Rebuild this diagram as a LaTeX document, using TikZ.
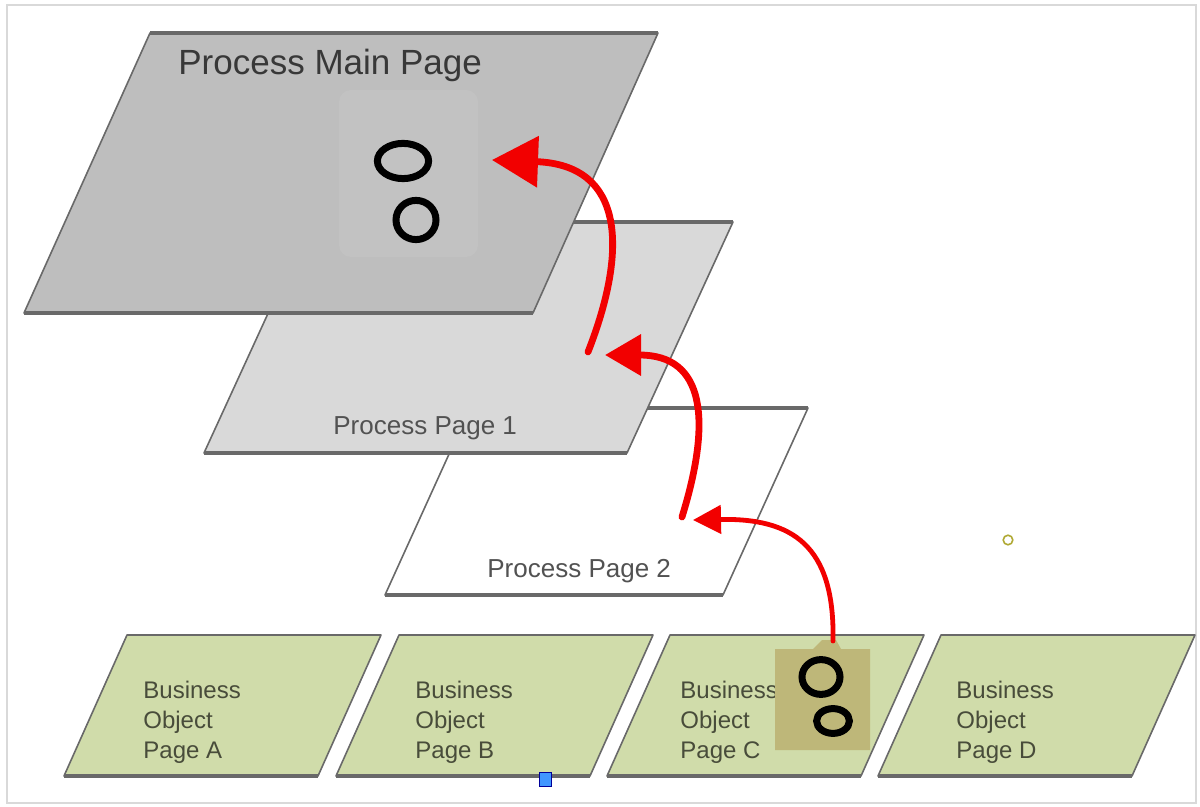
\documentclass[tikz,border=0pt]{standalone}
\usepackage{fontspec}
\setmainfont{Liberation Sans}
\usepackage{xcolor}
\usetikzlibrary{arrows.meta}
\definecolor{maingray}{RGB}{190,190,190}
\definecolor{mainspot}{RGB}{194,194,194}
\definecolor{subgray}{RGB}{217,217,217}
\definecolor{bizgreen}{RGB}{208,220,170}
\definecolor{bizpatch}{RGB}{190,183,121}
\definecolor{edgegray}{RGB}{105,105,105}
\definecolor{flowred}{RGB}{242,0,0}
\definecolor{bizink}{RGB}{72,76,58}

\begin{document}
\begin{tikzpicture}[x=0.5pt, y=-0.5pt,
    page/.style={draw=edgegray, line width=0.8pt, line join=round},
    pageedge/.style={draw=edgegray, line width=1.6pt},
    ring/.style={draw=black, line width=3.5pt},
    flow/.style={draw=flowred, line cap=round},
    pagelabel/.style={font=\fontsize{13}{15}\selectfont, text=black!68, inner sep=0pt},
    bizlabel/.style={font=\fontsize{12}{15}\selectfont, text=bizink, align=left, inner sep=0pt, anchor=north west}]

    \useasboundingbox (0,0) rectangle (1200,807);
    \draw[black!15, line width=0.6pt] (7,5) rectangle (1196,803);

    % Process Page 2
    \draw[page, fill=white] (470,408) -- (808,408) -- (723,595) -- (385,595) -- cycle;
    \draw[pageedge] (470,408) -- (808,408) (385,595) -- (723,595);
    \node[pagelabel, anchor=base west] (p2label) at (487,577) {Process Page 2};

    % Process Page 1
    \draw[page, fill=subgray] (310,222) -- (733,222) -- (627,453) -- (204,453) -- cycle;
    \draw[pageedge] (310,222) -- (733,222) (204,453) -- (627,453);
    \node[pagelabel, anchor=base west] (p1label) at (333,435) {Process Page 1};

    % Process main page
    \draw[page, fill=maingray] (150,33) -- (658,33) -- (533,313) -- (24,313) -- cycle;
    \draw[pageedge] (150,33) -- (658,33) (24,313) -- (533,313);
    \fill[mainspot, rounded corners=6] (339,90) rectangle (478,257);
    \node[font=\fontsize{17.5}{20}\selectfont, text=black!78, anchor=base west, inner sep=0pt] (mainlabel) at (178,75) {Process Main Page};
    \draw[ring] (403,161) ellipse [x radius=12.8pt, y radius=8.8pt];
    \draw[ring] (416,220) ellipse [x radius=10pt, y radius=9.8pt];

    % Business object pages
    \draw[page, fill=bizgreen] (127,635) -- (381,635) -- (318,776) -- (64,776) -- cycle;
    \draw[pageedge] (64,776) -- (318,776);
    \node[bizlabel] (bizA) at (143,681) {Business\\Object\\Page A};

    \draw[page, fill=bizgreen] (399,635) -- (653,635) -- (590,776) -- (336,776) -- cycle;
    \draw[pageedge] (336,776) -- (590,776);
    \node[bizlabel] (bizB) at (415,681) {Business\\Object\\Page B};

    \draw[page, fill=bizgreen] (670,635) -- (924,635) -- (861,776) -- (607,776) -- cycle;
    \draw[pageedge] (607,776) -- (861,776);
    \node[bizlabel] (bizC) at (680,681) {Business\\Object\\Page C};

    \draw[page, fill=bizgreen] (941,635) -- (1195,635) -- (1132,776) -- (878,776) -- cycle;
    \draw[pageedge] (878,776) -- (1132,776);
    \node[bizlabel] (bizD) at (956,681) {Business\\Object\\Page D};

    % marked spot on page C
    \fill[bizpatch] (775,649) -- (813,649) -- (822,640) -- (836,640) -- (841,649) -- (870,649) -- (870,750) -- (775,750) -- cycle;
    \draw[ring] (821,677) ellipse [x radius=9.5pt, y radius=8.7pt];
    \draw[ring] (833,721) ellipse [x radius=8.2pt, y radius=6.2pt];

    % small marks
    \fill[blue!55!cyan!75!white, draw=blue!60!black, line width=0.3pt] (539,772) rectangle (551,786);
    \draw[olive!70, line width=0.8pt] (1008,540) circle (2.4pt);

    % links upwards
    \coordinate (up1s) at (833,641);
    \coordinate (up1e) at (693,520);
    \coordinate (up2s) at (682,517);
    \coordinate (up2e) at (605,355);
    \coordinate (up3s) at (588,352);
    \coordinate (up3e) at (492,160);
    \draw[flow, line width=2.4pt, -{Triangle[length=14pt, width=14pt]}] (up1s) .. controls (835,545) and (792,518) .. (up1e);
    \draw[flow, line width=3.4pt, -{Triangle[length=18pt, width=20pt]}] (up2s) .. controls (712,420) and (705,355) .. (up2e);
    \draw[flow, line width=3.4pt, -{Triangle[length=23pt, width=25pt]}] (up3s) .. controls (628,250) and (625,165) .. (up3e);
\end{tikzpicture}
\end{document}
